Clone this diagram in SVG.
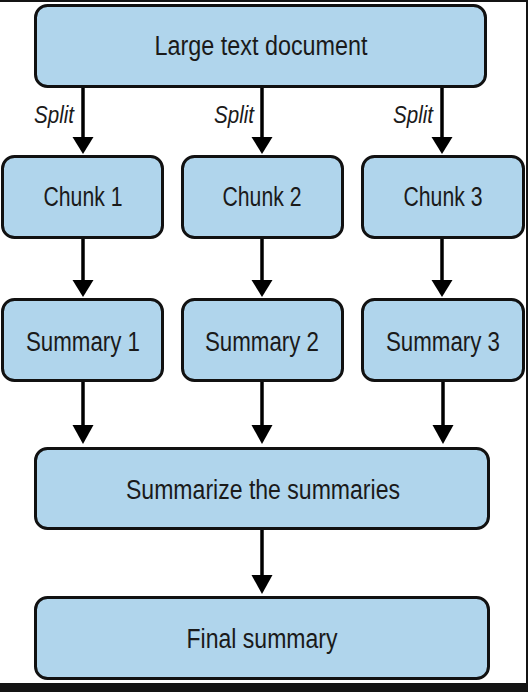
<svg xmlns="http://www.w3.org/2000/svg" width="528" height="692" viewBox="0 0 528 692">
<defs>
<style>
.box{fill:#B0D5EC;stroke:#111;stroke-width:3}
.lbl{font-family:"Liberation Sans",Arial,sans-serif;font-size:27px;fill:#1a1a1a;text-anchor:middle}
.split{font-family:"Liberation Sans",Arial,sans-serif;font-style:italic;font-size:23px;fill:#1a1a1a;text-anchor:middle}
.edge{stroke:#000;stroke-width:3.5;fill:none}
</style>
</defs>
<rect x="0" y="0" width="528" height="692" fill="#fff"/>
<rect x="0" y="0" width="528" height="2" fill="#141414"/>
<rect x="526" y="0" width="2" height="692" fill="#141414"/>
<rect x="0" y="683" width="528" height="9" fill="#141414"/>
<g id="connectors">
<path class="edge" d="M83,87 V137"/><path d="M72.5,137 L93.5,137 L83,154 Z"/>
<path class="edge" d="M262,87 V137"/><path d="M251.5,137 L272.5,137 L262,154 Z"/>
<path class="edge" d="M442,87 V137"/><path d="M431.5,137 L452.5,137 L442,154 Z"/>
<path class="edge" d="M83,239 V280"/><path d="M72.5,280 L93.5,280 L83,297 Z"/>
<path class="edge" d="M262,239 V280"/><path d="M251.5,280 L272.5,280 L262,297 Z"/>
<path class="edge" d="M442,239 V280"/><path d="M431.5,280 L452.5,280 L442,297 Z"/>
<path class="edge" d="M83,382 V426"/><path d="M72.5,425 L93.5,425 L83,444 Z"/>
<path class="edge" d="M262,382 V426"/><path d="M251.5,425 L272.5,425 L262,444 Z"/>
<path class="edge" d="M443,382 V426"/><path d="M432.5,425 L453.5,425 L443,444 Z"/>
<path class="edge" d="M262,530 V576"/><path d="M251.5,575 L272.5,575 L262,594 Z"/>
<text class="split" x="54" y="123" textLength="40" lengthAdjust="spacingAndGlyphs">Split</text>
<text class="split" x="234" y="123" textLength="40" lengthAdjust="spacingAndGlyphs">Split</text>
<text class="split" x="413" y="123" textLength="40" lengthAdjust="spacingAndGlyphs">Split</text>
</g>
<g id="n-doc"><rect class="box" x="35.5" y="5.5" width="450" height="81" rx="12"/><text class="lbl" x="261" y="55" textLength="213" lengthAdjust="spacingAndGlyphs">Large text document</text></g>
<g id="n-chunk1"><rect class="box" x="2.5" y="156.5" width="160" height="81" rx="12"/><text class="lbl" x="83" y="206" textLength="79" lengthAdjust="spacingAndGlyphs">Chunk 1</text></g>
<g id="n-chunk2"><rect class="box" x="182.5" y="156.5" width="160" height="81" rx="12"/><text class="lbl" x="262" y="206" textLength="79" lengthAdjust="spacingAndGlyphs">Chunk 2</text></g>
<g id="n-chunk3"><rect class="box" x="362.5" y="156.5" width="161" height="81" rx="12"/><text class="lbl" x="443" y="206" textLength="79" lengthAdjust="spacingAndGlyphs">Chunk 3</text></g>
<g id="n-sum1"><rect class="box" x="2.5" y="299.5" width="160" height="81" rx="12"/><text class="lbl" x="83" y="351" textLength="114" lengthAdjust="spacingAndGlyphs">Summary 1</text></g>
<g id="n-sum2"><rect class="box" x="182.5" y="299.5" width="160" height="81" rx="12"/><text class="lbl" x="262" y="351" textLength="114" lengthAdjust="spacingAndGlyphs">Summary 2</text></g>
<g id="n-sum3"><rect class="box" x="362.5" y="299.5" width="161" height="81" rx="12"/><text class="lbl" x="443" y="351" textLength="114" lengthAdjust="spacingAndGlyphs">Summary 3</text></g>
<g id="n-summarize"><rect class="box" x="35.5" y="448.5" width="453" height="80" rx="12"/><text class="lbl" x="263" y="499" textLength="274" lengthAdjust="spacingAndGlyphs">Summarize the summaries</text></g>
<g id="n-final"><rect class="box" x="35.5" y="597.5" width="453" height="81" rx="12"/><text class="lbl" x="262" y="648" textLength="151" lengthAdjust="spacingAndGlyphs">Final summary</text></g>
</svg>
